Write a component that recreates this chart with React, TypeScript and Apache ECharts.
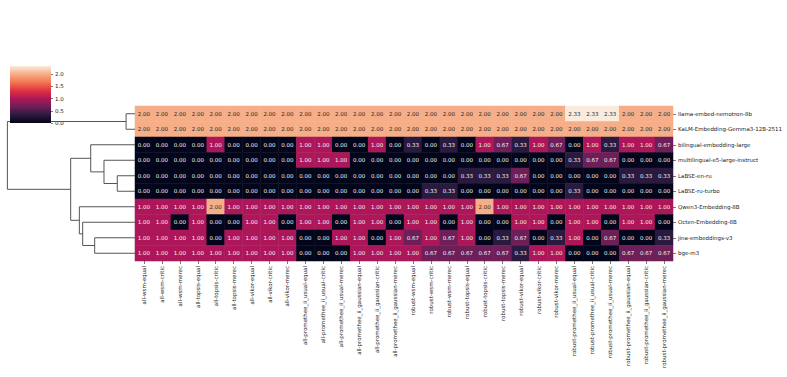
import React, { useEffect, useRef } from "react";
import * as echarts from "echarts";

const columns = [
  "all-wsm-equal", "all-wsm-critic", "all-wsm-merec",
  "all-topsis-equal", "all-topsis-critic", "all-topsis-merec",
  "all-vikor-equal", "all-vikor-critic", "all-vikor-merec",
  "all-promethee_ii_usual-equal", "all-promethee_ii_usual-critic", "all-promethee_ii_usual-merec",
  "all-promethee_ii_gaussian-equal", "all-promethee_ii_gaussian-critic", "all-promethee_ii_gaussian-merec",
  "robust-wsm-equal", "robust-wsm-critic", "robust-wsm-merec",
  "robust-topsis-equal", "robust-topsis-critic", "robust-topsis-merec",
  "robust-vikor-equal", "robust-vikor-critic", "robust-vikor-merec",
  "robust-promethee_ii_usual-equal", "robust-promethee_ii_usual-critic", "robust-promethee_ii_usual-merec",
  "robust-promethee_ii_gaussian-equal", "robust-promethee_ii_gaussian-critic", "robust-promethee_ii_gaussian-merec",
];

const rows = [
  "llama-embed-nemotron-8b",
  "KaLM-Embedding-Gemma3-12B-2511",
  "bilingual-embedding-large",
  "multilingual-e5-large-instruct",
  "LaBSE-en-ru",
  "LaBSE-ru-turbo",
  "Qwen3-Embedding-8B",
  "Octen-Embedding-8B",
  "jina-embeddings-v3",
  "bge-m3",
];

const llama = [2, 2, 2, 2, 2, 2, 2, 2, 2, 2, 2, 2, 2, 2, 2, 2, 2, 2, 2, 2, 2, 2, 2, 2, 2.33, 2.33, 2.33, 2, 2, 2];
const kalm = [2, 2, 2, 2, 2, 2, 2, 2, 2, 2, 2, 2, 2, 2, 2, 2, 2, 2, 2, 2, 2, 2, 2, 2, 2, 2, 2, 2, 2, 2];
const bilingual = [0, 0, 0, 0, 1, 0, 0, 0, 0, 1, 1, 0, 0, 1, 0, 0.33, 0, 0.33, 0, 1, 0.67, 0.33, 1, 0.67, 0, 1, 0.33, 1, 1, 0.67];
const multilingual = [0, 0, 0, 0, 0, 0, 0, 0, 0, 1, 1, 1, 0, 0, 0, 0, 0, 0, 0, 0, 0, 0, 0, 0, 0.33, 0.67, 0.67, 0, 0, 0];
const labseEnRu = [0, 0, 0, 0, 0, 0, 0, 0, 0, 0, 0, 0, 0, 0, 0, 0, 0, 0, 0.33, 0.33, 0.33, 0.67, 0, 0, 0, 0, 0, 0.33, 0.33, 0.33];
const labseRuTurbo = [0, 0, 0, 0, 0, 0, 0, 0, 0, 0, 0, 0, 0, 0, 0, 0, 0.33, 0.33, 0, 0, 0, 0, 0, 0, 0.33, 0, 0, 0, 0, 0];
const qwen = [1, 1, 1, 1, 2, 1, 1, 1, 1, 1, 1, 1, 1, 1, 1, 1, 1, 1, 1, 2, 1, 1, 1, 1, 1, 1, 1, 1, 1, 1];
const octen = [1, 1, 0, 1, 0, 0, 1, 1, 0, 1, 1, 0, 1, 1, 0, 1, 1, 0, 1, 0, 0, 1, 1, 0, 1, 1, 0, 1, 1, 0];
const jina = [1, 1, 1, 1, 0, 1, 1, 1, 1, 0, 0, 1, 1, 0, 1, 0.67, 1, 0.67, 1, 0, 0.33, 0.67, 0, 0.33, 1, 0, 0.67, 0, 0, 0.33];
const bge = [1, 1, 1, 1, 1, 1, 1, 1, 1, 0, 0, 0, 1, 1, 1, 1, 0.67, 0.67, 0.67, 0.67, 0.67, 0.33, 1, 1, 0, 0, 0, 0.67, 0.67, 0.67];

const matrix = [llama, kalm, bilingual, multilingual, labseEnRu, labseRuTurbo, qwen, octen, jina, bge];

// Row dendrogram linkage (scipy style): [childA, childB, height (relative)]
const linkage: [number, number, number][] = [
  [0, 1, 0.07],
  [4, 5, 0.139],
  [3, 11, 0.243],
  [2, 12, 0.347],
  [8, 9, 0.316],
  [7, 14, 0.41],
  [6, 15, 0.436],
  [13, 16, 0.504],
  [10, 17, 1.0],
];

const colorTicks = [0, 0.5, 1, 1.5, 2];
const vMin = 0;
const vMax = 2.33;

const rocket = [
  "#03051A", "#2B1A3F", "#6E1F57", "#AD1759", "#E13342", "#F37651", "#F5AD86", "#FAEBDD",
];

export default function App() {
  const ref = useRef<HTMLDivElement>(null);
  useEffect(() => {
    if (!ref.current) return;
    const chart = echarts.init(ref.current, null, { renderer: "svg" });
    const font = "DejaVu Sans";

    const heatData: any[] = [];
    matrix.forEach((row, r) =>
      row.forEach((v, c) => {
        heatData.push({
          value: [c, r, v],
          label: { color: v >= 1.5 ? "#262626" : "#f2f2f2" },
        });
      })
    );

    // dendrogram
    const n = rows.length;
    const pos: number[] = [];
    const hgt: number[] = [];
    for (let i = 0; i < n; i++) {
      pos[i] = i + 0.5;
      hgt[i] = 0;
    }
    const dendro: any[] = [];
    linkage.forEach(([a, b, h], k) => {
      const id = n + k;
      dendro.push({
        coords: [
          [hgt[a], pos[a]],
          [h, pos[a]],
          [h, pos[b]],
          [hgt[b], pos[b]],
        ],
      });
      pos[id] = (pos[a] + pos[b]) / 2;
      hgt[id] = h;
    });

    const stops = rocket.map((c, i) => ({ offset: i / (rocket.length - 1), color: c }));

    chart.setOption({
      animation: false,
      textStyle: { fontFamily: font },
      grid: [
        { left: 135, top: 106, width: 538, height: 155 },
        { left: 1, top: 106, width: 134, height: 155 },
        { left: 10, top: 66, width: 41, height: 57 },
      ],
      xAxis: [
        {
          gridIndex: 0,
          type: "category",
          data: columns,
          axisLine: { show: false },
          axisTick: { show: true, alignWithLabel: true, length: 3, lineStyle: { color: "#222", width: 0.6 } },
          axisLabel: { rotate: 90, fontSize: 5.5, color: "#222", margin: 5, interval: 0, fontFamily: font },
          splitLine: { show: false },
        },
        { gridIndex: 1, type: "value", min: 0, max: 1.05, inverse: true, show: false },
        { gridIndex: 2, type: "category", data: ["cb"], show: false },
      ],
      yAxis: [
        {
          gridIndex: 0,
          type: "category",
          data: rows,
          inverse: true,
          position: "right",
          axisLine: { show: false },
          axisTick: { show: true, alignWithLabel: true, length: 3, lineStyle: { color: "#222", width: 0.6 } },
          axisLabel: { fontSize: 5.5, color: "#222", margin: 5, interval: 0, fontFamily: font },
          splitLine: { show: false },
        },
        { gridIndex: 1, type: "value", min: 0, max: n, inverse: true, show: false },
        {
          gridIndex: 2,
          type: "value",
          min: vMin,
          max: vMax,
          position: "right",
          axisLine: { show: false },
          splitLine: { show: false },
          axisTick: { show: true, length: 2, customValues: colorTicks, lineStyle: { color: "#222", width: 0.6 } },
          axisLabel: {
            fontSize: 5.5,
            color: "#222",
            margin: 4,
            customValues: colorTicks,
            formatter: (v: number) => v.toFixed(1),
            fontFamily: font,
          },
        },
      ],
      visualMap: {
        show: false,
        min: vMin,
        max: vMax,
        seriesIndex: 0,
        inRange: { color: rocket },
      },
      series: [
        {
          type: "heatmap",
          xAxisIndex: 0,
          yAxisIndex: 0,
          data: heatData,
          label: {
            show: true,
            fontSize: 5.5,
            fontFamily: font,
            formatter: (p: any) => Number(p.value[2]).toFixed(2),
          },
          emphasis: { disabled: true },
        },
        {
          type: "lines",
          coordinateSystem: "cartesian2d",
          xAxisIndex: 1,
          yAxisIndex: 1,
          polyline: true,
          data: dendro,
          lineStyle: { color: "#555555", width: 1, opacity: 1 },
          silent: true,
        },
        {
          type: "bar",
          xAxisIndex: 2,
          yAxisIndex: 2,
          data: [vMax],
          barWidth: "100%",
          itemStyle: { color: new echarts.graphic.LinearGradient(0, 1, 0, 0, stops) },
          silent: true,
        },
      ],
    });
    return () => chart.dispose();
  }, []);
  return (
    <div
      ref={ref}
      style={{ position: "fixed", left: 0, top: 0, width: 787, height: 377, background: "#fff" }}
    />
  );
}
